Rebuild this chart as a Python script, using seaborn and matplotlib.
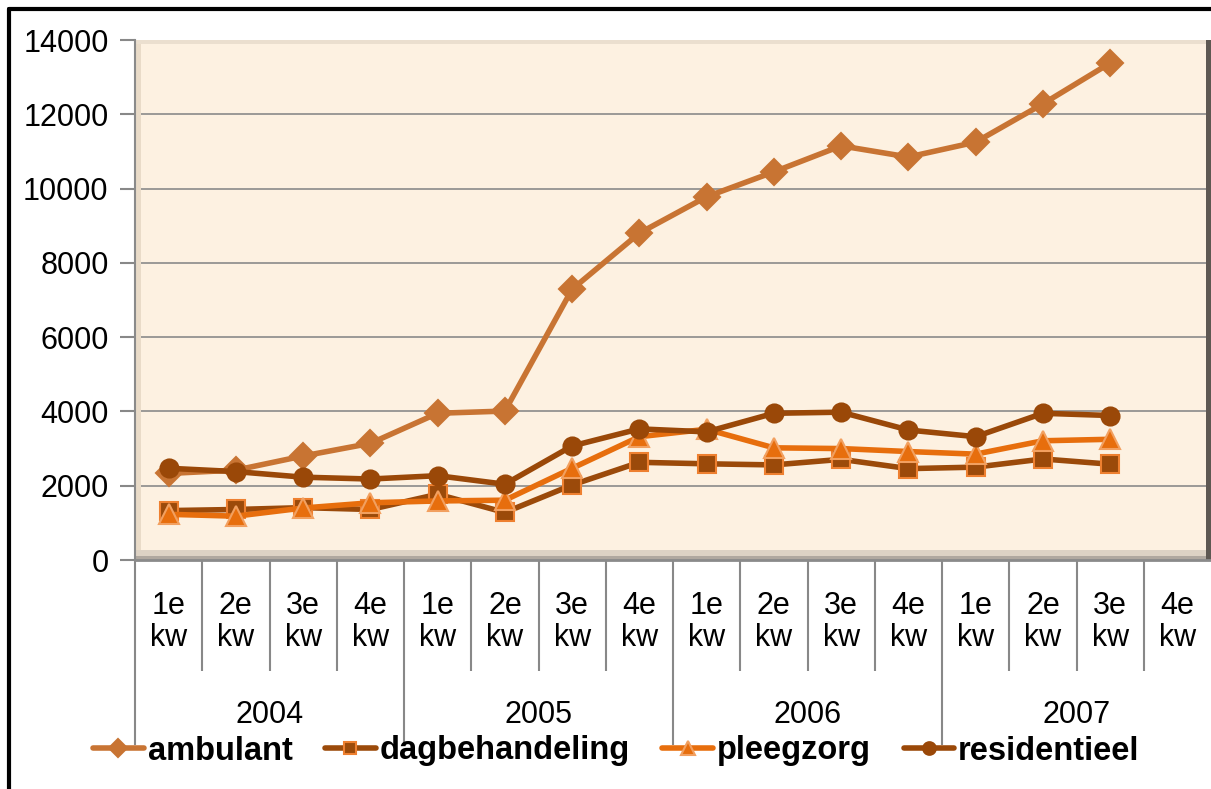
import matplotlib
matplotlib.use("Agg")
import matplotlib.pyplot as plt
import matplotlib.transforms as mtransforms
from matplotlib.patches import Rectangle
from matplotlib.lines import Line2D
import seaborn as sns
import pandas as pd
import numpy as np

# ---- data ----
quarters = ["1e\nkw", "2e\nkw", "3e\nkw", "4e\nkw"] * 4
years = ["2004", "2005", "2006", "2007"]
ambulant = [2330, 2420, 2800, 3140, 3950, 4010, 7290, 8800, 9780, 10450, 11150, 10850, 11250, 12280, 13380]
dagbehandeling = [1330, 1360, 1410, 1360, 1770, 1280, 2020, 2630, 2590, 2560, 2710, 2460, 2500, 2720, 2580]
pleegzorg = [1230, 1180, 1400, 1540, 1590, 1610, 2470, 3320, 3520, 3020, 3000, 2920, 2850, 3210, 3250]
residentieel = [2470, 2380, 2230, 2180, 2270, 2040, 3070, 3530, 3450, 3950, 3980, 3500, 3320, 3950, 3890]
series_names = ["ambulant", "dagbehandeling", "pleegzorg", "residentieel"]

sns.set_style("white")
plt.rcParams["font.family"] = ["Liberation Sans", "DejaVu Sans"]
plt.rcParams["text.color"] = "black"
plt.rcParams["xtick.labelcolor"] = "black"
plt.rcParams["ytick.labelcolor"] = "black"

W, H = 1211, 789
fig = plt.figure(figsize=(W / 100, H / 100), dpi=100)
fig.patch.set_facecolor("white")

ax = fig.add_axes([135 / W, 1 - 560 / H, (W - 135) / W, 520 / H])
ax.set_facecolor("#FDF1E1")

n = len(ambulant)
df = pd.DataFrame({
    "pos": list(range(n)) * 4,
    "value": ambulant + dagbehandeling + pleegzorg + residentieel,
    "series": sum([[s] * n for s in series_names], []),
})

styles = {
    "ambulant": dict(color="#C87433", marker="D", ms=13, mfc="#C87433", mec="#C87433"),
    "dagbehandeling": dict(color="#9B4A0A", marker="s", ms=12.5, mfc="#9B4A0A", mec="#EE8030"),
    "pleegzorg": dict(color="#E76E0D", marker="^", ms=14, mfc="#E76E0D", mec="#F2A060"),
    "residentieel": dict(color="#9A4808", marker="o", ms=13, mfc="#9A4808", mec="#9A4808"),
}
for name in series_names:
    st = styles[name]
    sub = df[df["series"] == name]
    sns.lineplot(data=sub, x="pos", y="value", ax=ax, label=name,
                 color=st["color"], marker=st["marker"], markersize=st["ms"],
                 markerfacecolor=st["mfc"], markeredgecolor=st["mec"],
                 markeredgewidth=1.5, linewidth=4, zorder=5)

ax.set_xlim(-0.5, 15.5)
ax.set_ylim(0, 14000)
ax.set_yticks(np.arange(0, 14001, 2000))
ax.set_yticklabels([str(v) for v in range(0, 14001, 2000)], fontsize=22, color="black")
ax.tick_params(axis="y", length=11, width=1.5, color="#888888", pad=8, left=True)
ax.yaxis.grid(True, color="#8A8A8A", linewidth=1.2)
ax.set_axisbelow(True)
gl = ax.yaxis.get_gridlines()
gl[-1].set_visible(False)
gl[0].set_visible(False)

# x ticks: separators
major = [-0.5, 3.5, 7.5, 11.5]
minor = [b + 0.5 for b in range(-1, 15) if (b + 0.5) not in major and b + 0.5 > -0.5]
ax.set_xticks(major)
ax.set_xticks(minor, minor=True)
ax.set_xticklabels([])
ax.tick_params(axis="x", which="major", length=133, width=1.5, color="#888888", bottom=True)
ax.tick_params(axis="x", which="minor", length=80, width=1.5, color="#888888", bottom=True)
ax.set_xlabel("")
ax.set_ylabel("")

for s in ["top", "right"]:
    ax.spines[s].set_visible(False)
ax.spines["left"].set_color("#8A8A8A")
ax.spines["left"].set_linewidth(1.5)
ax.spines["bottom"].set_color("#8A8A8A")
ax.spines["bottom"].set_linewidth(2)

# 3D-like wall edges
ax.add_patch(Rectangle((0, 0), 6 / 1076, 1, transform=ax.transAxes, color="#E9DBC8", zorder=1, lw=0))
ax.add_patch(Rectangle((0, 1 - 4 / 520), 1, 4 / 520, transform=ax.transAxes, color="#EBDFCF", zorder=1, lw=0))
ax.add_patch(Rectangle((0, 0), 1, 10 / 520, transform=ax.transAxes, color="#DDD2C4", zorder=1, lw=0))
ax.add_patch(Rectangle((0, 0), 1, 4 / 520, transform=ax.transAxes, color="#B0A89F", zorder=1, lw=0))
ax.add_patch(Rectangle((1 - 5 / 1076, 0), 5 / 1076, 1, transform=ax.transAxes, color="#5E5852", zorder=1, lw=0))

# category labels
trans = mtransforms.blended_transform_factory(ax.transData, ax.transAxes)
for i, q in enumerate(quarters):
    ax.text(i, -0.119, q, transform=trans, ha="center", va="center", fontsize=22,
            linespacing=1.1, color="black")
for k, y in enumerate(years):
    ax.text(4 * k + 1.5, -0.298, y, transform=trans, ha="center", va="center",
            fontsize=22, color="black")

# legend
handles, labels = ax.get_legend_handles_labels()
if ax.get_legend() is not None:
    ax.get_legend().remove()
leg = fig.legend(handles, labels, loc="center left", bbox_to_anchor=(93 / W, 1 - 751 / H),
                 ncol=4, frameon=False, prop={"size": 23.5, "weight": "bold"},
                 handlelength=1.55, handletextpad=0.12, columnspacing=1.0, markerscale=0.7,
                 borderaxespad=0, borderpad=0)
for t in leg.get_texts():
    t.set_color("black")

# figure frame (black border at top and left)
fig.add_artist(Line2D([9 / W, 1], [1 - 9 / H, 1 - 9 / H], transform=fig.transFigure, color="black", lw=3))
fig.add_artist(Line2D([9 / W, 9 / W], [0, 1 - 9 / H], transform=fig.transFigure, color="black", lw=3))
fig.text(7 / W, 1 - 3 / H, "2007", fontsize=12, ha="left", va="bottom", color="black")

fig.savefig("out.png", dpi=100, facecolor="white")
